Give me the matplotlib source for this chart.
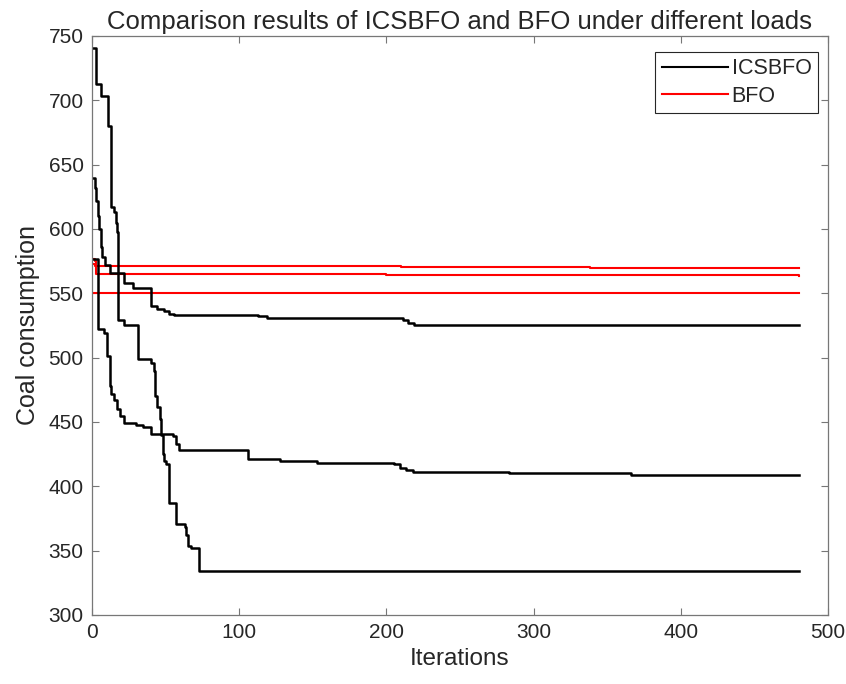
import numpy as np
import matplotlib
matplotlib.use('Agg')
from matplotlib import pyplot as plt

plt.rcParams['font.family'] = ['Liberation Sans', 'DejaVu Sans']

# ICSBFO curves (breakpoints, drawn as steps)
icsA_x = [1, 3, 6, 11, 13, 15, 16, 17, 18, 22, 31, 40, 42, 43, 44, 46, 47, 48, 49, 50, 52, 57, 63, 64, 65, 67, 73, 480]
icsA_y = [741, 713, 703, 680, 617, 613, 605, 598, 529, 525, 499, 496, 490, 470, 462, 452, 440, 425, 420, 417, 387, 371, 368, 362, 354, 352, 334, 334]

icsB_x = [1, 2, 3, 4, 5, 6, 7, 9, 12, 22, 28, 40, 44, 49, 52, 56, 113, 119, 211, 215, 219, 480]
icsB_y = [640, 632, 622, 610, 600, 586, 578, 572, 566, 558, 554, 540, 538, 536, 534, 533, 532.5, 530.6, 529, 527, 525, 525]

icsC_x = [1, 4, 8, 10, 12, 13, 15, 17, 19, 22, 30, 35, 40, 55, 57, 59, 106, 128, 153, 205, 209, 213, 218, 283, 366, 480]
icsC_y = [577, 522, 519, 501, 478, 472, 467, 460, 455, 449, 448, 446, 441, 439, 433, 428, 421, 419.5, 418.5, 417.5, 414, 413, 411.5, 410.2, 408.6, 408.6]

# BFO curves
bfo1_x = [1, 2, 210, 338, 480]
bfo1_y = [573, 571.5, 570.5, 569.5, 569.5]
bfo2_x = [1, 2, 3, 200, 480]
bfo2_y = [577, 575, 565, 564.2, 563.7]
bfo3_x = [1, 480]
bfo3_y = [550.5, 550.5]

fig = plt.figure(figsize=(8.46, 6.84), dpi=100)
ax = fig.add_axes([0.1087, 0.1009, 0.87, 0.8465])

for bx, by in [(bfo1_x, bfo1_y), (bfo2_x, bfo2_y), (bfo3_x, bfo3_y)]:
    ax.plot(bx, by, color='#ff0000', lw=1.5, drawstyle='steps-post')
for cx, cy in [(icsA_x, icsA_y), (icsB_x, icsB_y), (icsC_x, icsC_y)]:
    ax.plot(cx, cy, color='black', lw=1.8, drawstyle='steps-post')

h1, = ax.plot([], [], color='black', lw=1.5)
h2, = ax.plot([], [], color='#ff0000', lw=1.5)
leg = ax.legend([h1, h2], ['ICSBFO', 'BFO'], loc='upper right',
                bbox_to_anchor=(0.9864, 0.9729), borderaxespad=0,
                fontsize=15.5, handlelength=3.1, fancybox=False,
                framealpha=1, edgecolor='#262626', labelspacing=0.3,
                handletextpad=0.15, borderpad=0.3)
leg.get_frame().set_linewidth(0.8)
for t in leg.get_texts():
    t.set_color('#262626')

ax.set_xlim(0, 500)
ax.set_ylim(300, 750)
ax.set_xticks(np.arange(0, 501, 100))
ax.set_yticks(np.arange(300, 751, 50))
ax.tick_params(direction='in', top=True, right=True, length=5, width=0.8,
               color='#777777', labelcolor='#262626', labelsize=15, pad=6)
for s in ax.spines.values():
    s.set_color('#777777')
    s.set_linewidth(0.9)

ax.set_xlabel('Iterations', fontsize=17.5, color='#262626', labelpad=4)
ax.set_ylabel('Coal consumption', fontsize=18, color='#262626', labelpad=6)
ax.set_title('Comparison results of ICSBFO and BFO under different loads',
             fontsize=18.5, color='#262626', pad=5)

plt.savefig('out.png', dpi=100)
